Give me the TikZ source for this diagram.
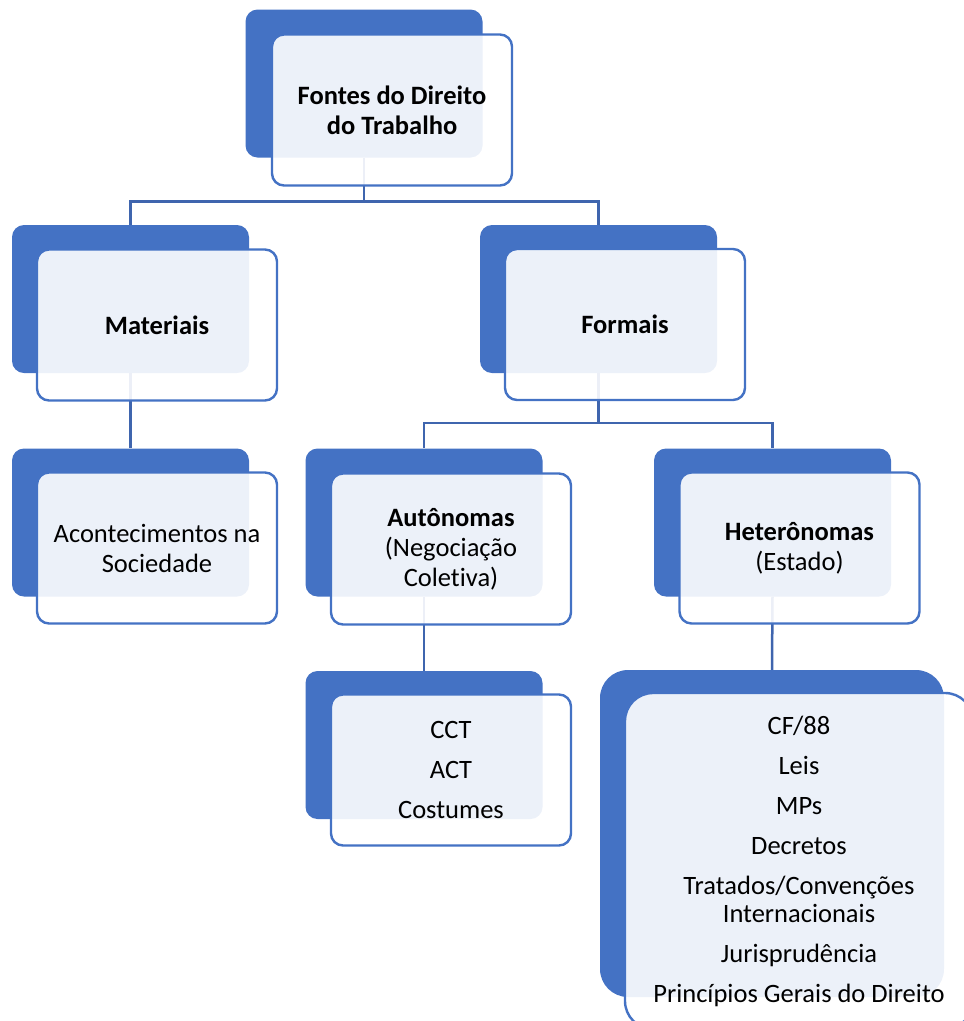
\documentclass[tikz,border=0pt]{standalone}
\usepackage{fontspec}
\setmainfont{Carlito}[Ligatures=NoCommon]
\usepackage{tikz}
\definecolor{blu}{HTML}{4472C4}
\definecolor{blulinea}{HTML}{3F65AE}
\tikzset{
  scuro/.style={rectangle, rounded corners=12pt, fill=blu, minimum width=237pt, minimum height=148pt},
  chiaro/.style={rectangle, rounded corners=12pt, draw=blu, line width=2.4pt, fill=white, fill opacity=0.9, text opacity=1,
    minimum width=240pt, minimum height=151pt, align=center, font=\fontsize{26.5}{30}\selectfont},
  grassetto/.style={font=\fontsize{26.5}{30}\selectfont\bfseries},
  linea/.style={draw=blulinea, line width=2.5pt}
}

\begin{document}
\begin{tikzpicture}[x=1pt, y=-1pt]
        % Area del disegno
        \clip (0,0) rectangle (964,1021);
        
        % Rettangoli scuri di sfondo
        \node[scuro] (radice-b) at (364,83.5) {};
        \node[scuro] (mat-b) at (130.5,299) {};
        \node[scuro] (form-b) at (598.5,299) {};
        \node[scuro] (acont-b) at (130.5,522.5) {};
        \node[scuro] (aut-b) at (424,522.5) {};
        \node[scuro] (het-b) at (772.5,522.5) {};
        \node[scuro] (cct-b) at (424,745) {};
        \node[scuro, rounded corners=28pt, minimum width=344pt, minimum height=327pt] (fonti-b) at (772,833.5) {};
        
        % Linee di collegamento
        \draw[linea] (radice-b.south) -- ++(0,44) -| (mat-b.north);
        \draw[linea] (radice-b.south) -- ++(0,44) -| (form-b.north);
        \draw[linea] (mat-b.south) -- (acont-b.north);
        \draw[linea] (form-b.south) -- ++(0,50) -| (aut-b.north);
        \draw[linea] (form-b.south) -- ++(0,50) -| (het-b.north);
        \draw[linea] (aut-b.south) -- (cct-b.north);
        \draw[linea] (het-b.south) -- (fonti-b.north);
        
        % Rettangoli chiari con i testi
        \node[chiaro, grassetto] (radice) at (392,110) {Fontes do Direito\\do Trabalho};
        \node[chiaro, grassetto] (mat) at (157,325) {Materiais};
        \node[chiaro, grassetto] (form) at (625,324.5) {Formais};
        \node[chiaro] (acont) at (157,548) {Acontecimentos na\\Sociedade};
        \node[chiaro] (aut) at (451,549) {\textbf{Autônomas}\\(Negociação\\Coletiva)};
        \node[chiaro] (het) at (799.5,548) {\textbf{Heterônomas}\\(Estado)};
        \node[chiaro] (cct) at (451,770) {CCT\\[10pt]ACT\\[10pt]Costumes};
        \node[chiaro, rounded corners=28pt, minimum width=348pt, minimum height=336pt] (fonti) at (799,861)
        {CF/88\\[10pt]Leis\\[10pt]MPs\\[10pt]Decretos\\[10pt]Tratados/Convenções\\[-2pt]Internacionais\\[10pt]Jurisprudência\\[10pt]Princípios Gerais do Direito};
        
\end{tikzpicture}
\end{document}
